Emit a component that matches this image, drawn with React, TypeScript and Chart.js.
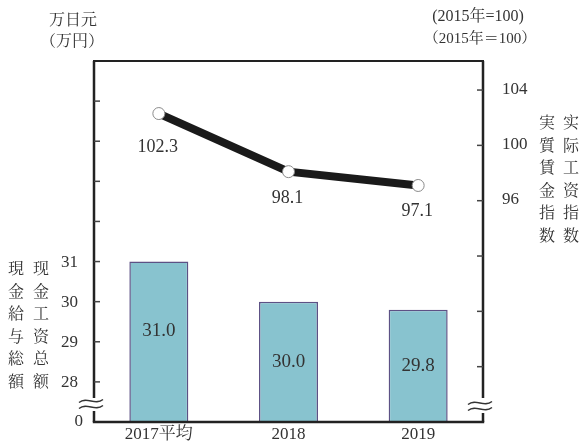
import React, { useEffect, useRef } from "react";
import { Chart, registerables } from "chart.js";

Chart.register(...registerables);

const categories = ["2017平均", "2018", "2019"];
const cashEarnings = [31.0, 30.0, 29.8];
const realWageIndex = [102.3, 98.1, 97.1];
const leftTickLabels = [28, 29, 30, 31];
const leftTickMarks = [28, 29, 30, 31, 32, 33, 34, 35];
const leftAxisMin = 27; // shown as "0" (broken axis)
const leftAxisMax = 36;
const rightTickLabels = [96, 100, 104];
const rightTickMarks = [84, 88, 92, 96, 100, 104];
const rightAxisMin = 80;
const rightAxisMax = 106.1;

const SERIF = "'Liberation Serif','Noto Serif CJK JP','Noto Sans CJK JP',serif";
const JP = "'Noto Serif CJK JP','Noto Sans CJK JP',serif";
const SC = "'Noto Serif CJK SC','Noto Sans CJK SC',serif";
const TEXT = "#333333";

function wave(ctx: CanvasRenderingContext2D, cx: number, cy: number, w: number) {
  ctx.save();
  ctx.strokeStyle = "#333";
  ctx.lineWidth = 1.4;
  for (const dy of [-3, 3]) {
    const x0 = cx - w / 2;
    const y = cy + dy;
    ctx.beginPath();
    ctx.moveTo(x0, y + 1.5);
    ctx.bezierCurveTo(x0 + w / 3, y - 5, x0 + (2 * w) / 3, y + 5, x0 + w, y - 1.5);
    ctx.stroke();
  }
  ctx.restore();
}

function vText(ctx: CanvasRenderingContext2D, s: string, x: number, y0: number, step: number, font: string) {
  ctx.font = font;
  ctx.textAlign = "center";
  ctx.textBaseline = "middle";
  Array.from(s).forEach((ch, i) => ctx.fillText(ch, x, y0 + i * step));
}

const decor = {
  id: "decor",
  afterDraw(chart: any) {
    const ctx: CanvasRenderingContext2D = chart.ctx;
    const { left, right, top, bottom } = chart.chartArea;
    const yL = chart.scales.yL;
    const yR = chart.scales.yR;
    const x = chart.scales.x;
    ctx.save();

    // value labels on bars
    ctx.fillStyle = TEXT;
    ctx.font = `19px ${SERIF}`;
    ctx.textAlign = "center";
    ctx.textBaseline = "middle";
    const barDy = [-11, 0, 0];
    const base = yL.getPixelForValue(leftAxisMin);
    cashEarnings.forEach((v, i) => {
      const yTop = yL.getPixelForValue(v);
      ctx.fillText(v.toFixed(1), x.getPixelForValue(i), (yTop + base) / 2 + barDy[i]);
    });
    // value labels under line points
    const lineDy = [34, 27, 26];
    ctx.font = `18px ${SERIF}`;
    realWageIndex.forEach((v, i) => {
      ctx.fillText(v.toFixed(1), x.getPixelForValue(i) - 1, yR.getPixelForValue(v) + lineDy[i]);
    });

    // frame
    ctx.strokeStyle = "#222";
    ctx.lineCap = "butt";
    ctx.lineWidth = 2;
    ctx.beginPath();
    ctx.moveTo(left - 1, top);
    ctx.lineTo(right + 1, top);
    ctx.stroke();
    ctx.lineWidth = 2.5;
    ctx.beginPath();
    ctx.moveTo(left, top);
    ctx.lineTo(left, bottom - 24);
    ctx.moveTo(left, bottom - 11);
    ctx.lineTo(left, bottom);
    ctx.moveTo(right, top);
    ctx.lineTo(right, bottom - 24);
    ctx.moveTo(right, bottom - 9);
    ctx.lineTo(right, bottom);
    ctx.stroke();
    ctx.beginPath();
    ctx.moveTo(left - 1.2, bottom);
    ctx.lineTo(right + 1.2, bottom);
    ctx.stroke();
    wave(ctx, left - 3, bottom - 18, 24);
    wave(ctx, right - 3, bottom - 16, 24);

    // tick marks
    ctx.strokeStyle = "#444";
    ctx.lineWidth = 1.5;
    leftTickMarks.forEach((v) => {
      const y = yL.getPixelForValue(v);
      ctx.beginPath();
      ctx.moveTo(left, y);
      ctx.lineTo(left + 6, y);
      ctx.stroke();
    });
    rightTickMarks.forEach((v) => {
      const y = yR.getPixelForValue(v);
      ctx.beginPath();
      ctx.moveTo(right - 6, y);
      ctx.lineTo(right, y);
      ctx.stroke();
    });

    // tick labels
    ctx.fillStyle = TEXT;
    ctx.font = `17px ${SERIF}`;
    ctx.textBaseline = "middle";
    ctx.textAlign = "right";
    leftTickLabels.forEach((v) => ctx.fillText(String(v), left - 16, yL.getPixelForValue(v) + 1));
    ctx.fillText("0", left - 11, yL.getPixelForValue(leftAxisMin));
    ctx.textAlign = "left";
    rightTickLabels.forEach((v) => ctx.fillText(String(v), right + 19, yR.getPixelForValue(v) - 1));

    // category labels
    ctx.textAlign = "center";
    ctx.font = `17px ${SERIF}`;
    categories.forEach((c, i) => ctx.fillText(c, x.getPixelForValue(i), bottom + 13));

    // unit labels
    ctx.font = `16px ${SC}`;
    ctx.fillText("万日元", 73, 19);
    ctx.font = `16px ${JP}`;
    ctx.fillText("（万円）", 72, 40);
    ctx.font = `16px ${SERIF}`;
    ctx.fillText("(2015年=100)", 478, 17);
    ctx.font = `15px ${SERIF}`;
    ctx.fillText("（2015年＝100）", 480, 39);

    // vertical axis titles
    vText(ctx, "現金給与総額", 16, 268, 22.5, `16px ${JP}`);
    vText(ctx, "现金工资总额", 41, 268, 22.5, `16px ${SC}`);
    vText(ctx, "実質賃金指数", 547, 122, 22.5, `16px ${JP}`);
    vText(ctx, "实际工资指数", 571, 122, 22.5, `16px ${SC}`);

    ctx.restore();
  },
};

export default function App() {
  const ref = useRef<HTMLCanvasElement>(null);
  useEffect(() => {
    document.body.style.margin = "0";
    const chart = new Chart(ref.current as HTMLCanvasElement, {
      type: "bar",
      data: {
        labels: categories,
        datasets: [
          {
            type: "line",
            data: realWageIndex,
            yAxisID: "yR",
            borderColor: "#1a1a1a",
            borderWidth: 8,
            pointRadius: 6,
            pointBackgroundColor: "#ffffff",
            pointBorderColor: "#8a8a8a",
            pointBorderWidth: 1,
            tension: 0,
            order: 0,
          } as any,
          {
            type: "bar",
            data: cashEarnings,
            yAxisID: "yL",
            backgroundColor: "#88c3cf",
            borderColor: "#5d5185",
            borderWidth: 1.5,
            barPercentage: 0.455,
            categoryPercentage: 1,
            order: 1,
          } as any,
        ],
      },
      options: {
        responsive: false,
        animation: false,
        layout: { padding: { left: 94, right: 102, top: 61, bottom: 24 } },
        plugins: { legend: { display: false }, tooltip: { enabled: false } },
        scales: {
          x: { display: false, offset: true },
          yL: { display: false, position: "left", min: leftAxisMin, max: leftAxisMax },
          yR: { display: false, position: "right", min: rightAxisMin, max: rightAxisMax },
        },
      },
      plugins: [decor],
    });
    return () => chart.destroy();
  }, []);
  return (
    <div style={{ width: 585, height: 446 }}>
      <canvas ref={ref} width={585} height={446} />
    </div>
  );
}
